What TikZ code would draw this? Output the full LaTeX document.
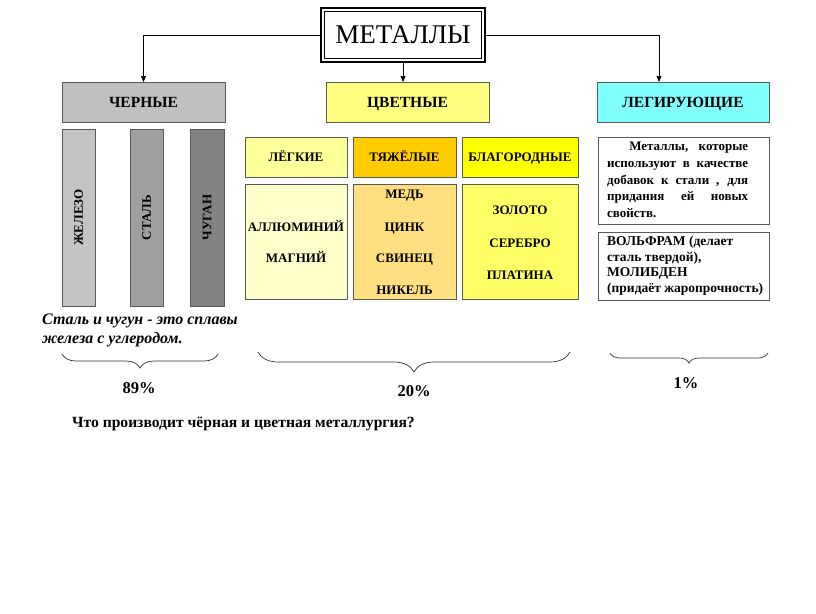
\documentclass[tikz,border=0pt]{standalone}
\usepackage{fontspec}
\setmainfont{Liberation Serif}
\usetikzlibrary{decorations.pathreplacing,arrows.meta}
\definecolor{bordc}{HTML}{5A5A50}
\definecolor{grayA}{HTML}{C0C0C0}
\definecolor{barA}{HTML}{C4C4C4}
\definecolor{barB}{HTML}{A0A0A0}
\definecolor{barC}{HTML}{838383}
\definecolor{yelH}{HTML}{FFFF80}
\definecolor{cyanH}{HTML}{80FFFF}
\definecolor{lightT}{HTML}{FFFF99}
\definecolor{lightB}{HTML}{FFFFCC}
\definecolor{heavyT}{HTML}{FFCC00}
\definecolor{heavyB}{HTML}{FFDF80}
\definecolor{nobleT}{HTML}{FFFF00}
\definecolor{nobleB}{HTML}{FFFF66}
\begin{document}
\begin{tikzpicture}[x=1pt,y=-1pt,
  box/.style={draw=bordc, line width=0.9pt, inner sep=0pt, outer sep=0pt,
    font=\fontsize{13}{15}\selectfont\bfseries, align=center},
  capbox/.style={box, text height=8.7pt, text depth=0pt},
  hdr/.style={box, font=\fontsize{15.5}{17}\selectfont\bfseries, text height=10.3pt, text depth=0pt},
  arr/.style={-{Triangle[length=6pt,width=5pt]}, line width=0.7pt},
  brc/.style={decorate, line width=0.7pt, draw=black!80,
    decoration={brace, mirror, amplitude=#1}},
  pct/.style={font=\fontsize{16.5}{18}\selectfont\bfseries},
  itm/.style={font=\fontsize{13}{15}\selectfont\bfseries, text height=8.7pt, text depth=0pt, inner sep=0pt}
]
\useasboundingbox (0,0) rectangle (816,613);

% title
\node[draw=black, line width=2.4pt, minimum width=164pt, minimum height=54pt,
  inner sep=0pt, font=\fontsize{27}{30}\selectfont] (title) at (403,35) {МЕТАЛЛЫ};
\draw[line width=0.9pt] ([shift={(4.5,4.5)}]title.north west) rectangle ([shift={(-4.5,-4.5)}]title.south east);

% header boxes
\node[hdr, fill=grayA, minimum width=163pt, minimum height=40pt] (cher) at (143.5,102) {ЧЕРНЫЕ};
\node[hdr, fill=yelH, minimum width=163pt, minimum height=40pt] (cvet) at (407.5,102) {ЦВЕТНЫЕ};
\node[hdr, fill=cyanH, minimum width=172pt, minimum height=40pt] (leg) at (683,102) {ЛЕГИРУЮЩИЕ};

\coordinate (legtop) at (659,82);
\draw[arr] (title.west) -| (cher.north);
\draw[arr] (title.south) -- (title.south |- cvet.north);
\draw[arr] (title.east) -| (legtop);

% black metal bars
\node[box, fill=barA, minimum width=33pt, minimum height=177pt] (fe) at (78.5,217.5) {};
\node[rotate=90, itm] (fet) at (fe.center) {ЖЕЛЕЗО};
\node[box, fill=barB, minimum width=33pt, minimum height=177pt] (st) at (146.5,217.5) {};
\node[rotate=90, itm] (stt) at (st.center) {СТАЛЬ};
\node[box, fill=barC, minimum width=34pt, minimum height=177pt] (ch) at (207,217.5) {};
\node[rotate=90, itm] (cht) at (ch.center) {ЧУГАН};

\node[anchor=north west, align=left, inner sep=0pt,
  font=\fontsize{16}{19}\selectfont\bfseries\itshape] (alloy) at (42,314)
  {Сталь и чугун - это сплавы\\железа с углеродом.};

% coloured metals
\node[capbox, fill=lightT, minimum width=102pt, minimum height=40pt] (lg) at (296,157) {ЛЁГКИЕ};
\node[capbox, fill=heavyT, minimum width=103pt, minimum height=40pt] (hv) at (404.5,157) {ТЯЖЁЛЫЕ};
\node[capbox, fill=nobleT, minimum width=116pt, minimum height=40pt] (nb) at (520,157) {БЛАГОРОДНЫЕ};

\node[box, fill=lightB, minimum width=102pt, minimum height=115pt] (lgb) at (296,241.5) {};
\node[box, fill=heavyB, minimum width=103pt, minimum height=115pt] (hvb) at (404.5,241.5) {};
\node[box, fill=nobleB, minimum width=116pt, minimum height=115pt] (nbb) at (520,241.5) {};

\node[itm] (al) at (296,227) {АЛЛЮМИНИЙ};
\node[itm] (mg) at (296,258) {МАГНИЙ};
\node[itm] (cu) at (404.5,194) {МЕДЬ};
\node[itm] (zn) at (404.5,227) {ЦИНК};
\node[itm] (pb) at (404.5,258) {СВИНЕЦ};
\node[itm] (ni) at (404.5,290) {НИКЕЛЬ};
\node[itm] (au) at (520,210) {ЗОЛОТО};
\node[itm] (ag) at (520,243) {СЕРЕБРО};
\node[itm] (pt) at (520,275) {ПЛАТИНА};

% alloying
\node[box, fill=white, minimum width=171pt, minimum height=87pt] (def) at (683.5,180.5) {};
\node[anchor=north west, inner sep=0pt, text width=141pt, align=justify,
  font=\fontsize{13}{16.7}\selectfont\bfseries] (deft) at (607,142)
  {\hspace*{1.7em}Металлы, которые\linebreak используют в качестве\linebreak добавок к стали , для\linebreak придания ей новых\linebreak свойств.};
\node[box, fill=white, minimum width=171pt, minimum height=68pt] (ex) at (683.5,266) {};
\node[anchor=north west, inner sep=0pt, align=left,
  font=\fontsize{13.5}{15.7}\selectfont\bfseries] (ext) at (607,236)
  {ВОЛЬФРАМ (делает\\сталь твердой),\\МОЛИБДЕН\\(придаёт жаропрочность)};

% braces
\coordinate (b1a) at (62,354);
\coordinate (b1b) at (218,354);
\coordinate (b2a) at (258,352);
\coordinate (b2b) at (570,352);
\coordinate (b3a) at (610,353);
\coordinate (b3b) at (768,353);
\draw[brc=14pt] (b1a) -- (b1b);
\draw[brc=20pt] (b2a) -- (b2b);
\draw[brc=10pt] (b3a) -- (b3b);

\node[pct] (p1) at (139,388) {89\%};
\node[pct] (p2) at (414,391) {20\%};
\node[pct] (p3) at (686,383) {1\%};

\node[anchor=west, inner sep=0pt, font=\fontsize{15.6}{17}\selectfont\bfseries] (q) at (72,424)
  {Что производит чёрная и цветная металлургия?};
\end{tikzpicture}
\end{document}
